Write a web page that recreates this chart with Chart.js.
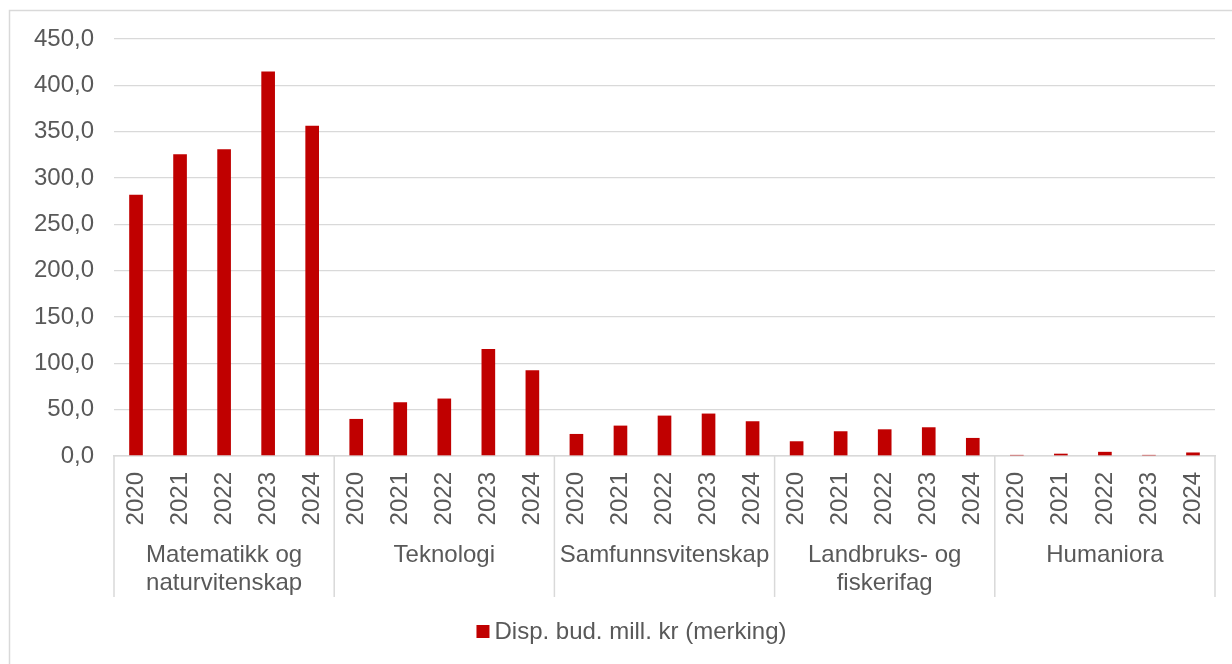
<!DOCTYPE html>
<html>
<head>
<meta charset="utf-8">
<script src="https://cdn.jsdelivr.net/npm/chart.js@4"></script>
<style>
  html, body { margin: 0; padding: 0; background: #fff; }
  #wrap { width: 1232px; height: 664px; position: relative; }
</style>
</head>
<body>
<div id="wrap"><canvas id="c"></canvas></div>
<script>
// år og fagområder
var years = ['2020', '2021', '2022', '2023', '2024'];
var fields = [
  ['Matematikk og', 'naturvitenskap'],
  ['Teknologi'],
  ['Samfunnsvitenskap'],
  ['Landbruks- og', 'fiskerifag'],
  ['Humaniora']
];
// Disp. bud. mill. kr (merking), per fagområde
var matnat = [282.0, 325.5, 331.0, 415.0, 356.5];
var teknologi = [40.0, 58.0, 62.0, 115.6, 92.5];
var samfunn = [23.8, 32.8, 43.6, 45.8, 37.5];
var landbruk = [15.9, 26.7, 28.8, 31.0, 19.5];
var humaniora = [1.2, 2.5, 4.5, 1.2, 3.8];
var seriesName = 'Disp. bud. mill. kr (merking)';
var yTicks = [0, 50, 100, 150, 200, 250, 300, 350, 400, 450];

var FONT = "'Liberation Sans', Arial, sans-serif";
var TXT = '#595959';
var GRID = '#D9D9D9';
var RED = '#C00000';

var labels = [];
var values = [];
var perField = [matnat, teknologi, samfunn, landbruk, humaniora];
for (var g = 0; g < fields.length; g++) {
  for (var k = 0; k < years.length; k++) {
    labels.push(years[k]);
    values.push(perField[g][k]);
  }
}

var groupAxis = {
  id: 'groupAxis',
  beforeDraw: function (chart) {
    var ctx = chart.ctx;
    ctx.save();
    ctx.strokeStyle = GRID;
    ctx.lineWidth = 1.5;
    ctx.beginPath();
    ctx.moveTo(9.5, 664);
    ctx.lineTo(9.5, 10.5);
    ctx.lineTo(1232, 10.5);
    ctx.stroke();
    ctx.restore();
  },
  afterDraw: function (chart) {
    var ctx = chart.ctx;
    var xs = chart.scales.x;
    var n = years.length;
    ctx.save();
    // skillelinjer mellom grupper
    ctx.strokeStyle = GRID;
    ctx.lineWidth = 1.5;
    var top = xs.top, bottom = xs.top + 141;
    for (var g = 0; g <= fields.length; g++) {
      var px;
      if (g === 0) px = xs.left;
      else if (g === fields.length) px = xs.right;
      else px = (xs.getPixelForValue(g * n - 1) + xs.getPixelForValue(g * n)) / 2;
      ctx.beginPath();
      ctx.moveTo(px, top);
      ctx.lineTo(px, bottom);
      ctx.stroke();
    }
    // gruppenavn
    ctx.fillStyle = TXT;
    ctx.font = '24px ' + FONT;
    ctx.textAlign = 'center';
    ctx.textBaseline = 'middle';
    for (var g2 = 0; g2 < fields.length; g2++) {
      var cx = (xs.getPixelForValue(g2 * n) + xs.getPixelForValue(g2 * n + n - 1)) / 2;
      for (var l = 0; l < fields[g2].length; l++) {
        ctx.fillText(fields[g2][l], cx, top + 99 + l * 28);
      }
    }
    // forklaring
    var w = ctx.measureText(seriesName).width;
    var total = 13 + 5 + w;
    var lx = 631.5 - total / 2;
    ctx.fillStyle = RED;
    ctx.fillRect(lx, 625, 13, 13);
    ctx.fillStyle = TXT;
    ctx.textAlign = 'left';
    ctx.fillText(seriesName, lx + 18, 632);
    ctx.restore();
  }
};

new Chart(document.getElementById('c'), {
  type: 'bar',
  data: {
    labels: labels,
    datasets: [{
      label: seriesName,
      data: values,
      backgroundColor: RED,
      borderWidth: 0,
      categoryPercentage: 1,
      barPercentage: 0.31
    }]
  },
  options: {
    responsive: true,
    maintainAspectRatio: false,
    animation: false,
    layout: { padding: { top: 39, right: 17, bottom: 67, left: 0 } },
    plugins: {
      legend: { display: false },
      tooltip: { enabled: false }
    },
    scales: {
      x: {
        grid: { display: false, drawTicks: false },
        border: { display: true, color: GRID, width: 1.5 },
        ticks: {
          autoSkip: false,
          minRotation: 90,
          maxRotation: 90,
          padding: 16,
          color: TXT,
          font: { family: FONT, size: 24 }
        },
        afterFit: function (scale) {
          scale.height = 141;
          scale.paddingLeft = 0;
          scale.paddingRight = 0;
        }
      },
      y: {
        min: 0,
        max: 450,
        afterBuildTicks: function (scale) {
          scale.ticks = yTicks.map(function (v) { return { value: v }; });
        },
        grid: { color: GRID, lineWidth: 1.3, drawTicks: false },
        border: { display: false },
        ticks: {
          padding: 20,
          color: TXT,
          font: { family: FONT, size: 24 },
          callback: function (v) { return v.toFixed(1).replace('.', ','); }
        },
        afterFit: function (scale) { scale.width = 114; }
      }
    }
  },
  plugins: [groupAxis]
});
</script>
</body>
</html>
